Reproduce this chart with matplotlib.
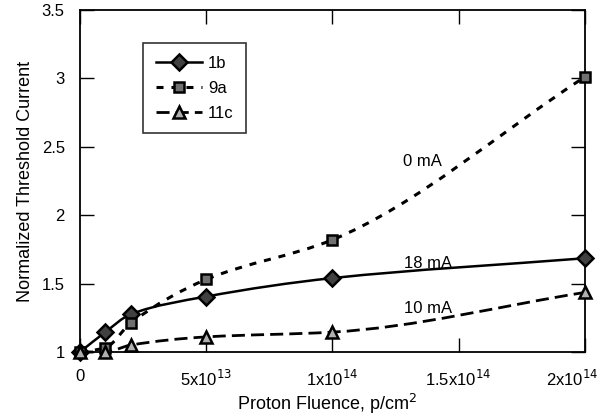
import matplotlib
matplotlib.use('Agg')
import matplotlib.pyplot as plt
from matplotlib.path import Path
from matplotlib.patches import PathPatch
from matplotlib.lines import Line2D
from matplotlib.transforms import ScaledTranslation
import numpy as np

plt.rcParams['font.family'] = ['Liberation Sans', 'DejaVu Sans']

# fluence values (p/cm^2)
fluence = [0, 1e13, 2e13, 5e13, 1e14, 2e14]
# normalized threshold current for each device
th_1b = [1.0, 1.145, 1.275, 1.405, 1.54, 1.685]
th_9a = [1.0, 1.03, 1.21, 1.53, 1.82, 3.01]
th_11c = [1.0, 1.0, 1.05, 1.11, 1.145, 1.435]

x_ticks = [0, 5e13, 1e14, 1.5e14, 2e14]
x_labels = ['0', r'5x10$^{13}$', r'1x10$^{14}$', r'1.5x10$^{14}$', r'2x10$^{14}$']
y_ticks = [1, 1.5, 2, 2.5, 3, 3.5]
y_labels = ['1', '1.5', '2', '2.5', '3', '3.5']


# smooth curve through the points, drawn as bezier segments (monotone tangents)
def smooth_path(x, y):
    x = np.asarray(x, float)
    y = np.asarray(y, float)
    h = np.diff(x)
    d = np.diff(y) / h
    m = np.zeros_like(y)
    m[0] = d[0]
    m[-1] = d[-1]
    for i in range(1, len(x) - 1):
        if d[i - 1] * d[i] > 0:
            w1 = 2 * h[i] + h[i - 1]
            w2 = h[i] + 2 * h[i - 1]
            m[i] = (w1 + w2) / (w1 / d[i - 1] + w2 / d[i])
    verts = [(x[0], y[0])]
    codes = [Path.MOVETO]
    for i in range(len(x) - 1):
        verts += [(x[i] + h[i] / 3, y[i] + m[i] * h[i] / 3),
                  (x[i + 1] - h[i] / 3, y[i + 1] - m[i + 1] * h[i] / 3),
                  (x[i + 1], y[i + 1])]
        codes += [Path.CURVE4] * 3
    return Path(verts, codes)


fig = plt.figure(figsize=(6.11, 4.17), dpi=100)
ax = fig.add_axes([0.131, 0.156, 0.826, 0.820])

series = [
    ('1b', th_1b, 'D', '#404040', 8.5, '-', 1.8),
    ('9a', th_9a, 's', '#707070', 7.5, (0, (2.3, 2.6)), 2.2),
    ('11c', th_11c, '^', '#b0b0b0', 8.5, (0, (4.7, 2.2)), 2.0),
]
handles = []
for name, vals, mk, fc, ms, ls, lw in series:
    patch = PathPatch(smooth_path(fluence, vals), facecolor='none', edgecolor='black',
                      linewidth=lw, linestyle=ls, capstyle='butt', clip_on=False)
    ax.add_patch(patch)
    ax.plot(fluence, vals, linestyle='none', marker=mk, markersize=ms,
            markerfacecolor=fc, markeredgecolor='black', markeredgewidth=1.8,
            clip_on=False, zorder=5)
    handles.append(Line2D([], [], color='black', linestyle=ls, linewidth=lw, marker=mk,
                          markersize=ms - 0.5, markerfacecolor=fc, markeredgecolor='black',
                          markeredgewidth=1.8))

ax.set_xlim(0, 2e14)
ax.set_ylim(1, 3.5)
ax.set_xticks(x_ticks)
ax.set_xticklabels(x_labels, fontsize=12)
ax.set_yticks(y_ticks)
ax.set_yticklabels(y_labels, fontsize=12)
ax.tick_params(direction='in', length=10, width=1, top=True, right=True)
ax.tick_params(axis='x', pad=12)
ax.tick_params(axis='y', pad=11)
for sp in ax.spines.values():
    sp.set_linewidth(1.3)

# last tick label sits a bit left so it stays inside the figure
last = ax.get_xticklabels()[-1]
last.set_transform(last.get_transform() + ScaledTranslation(-0.13, 0, fig.dpi_scale_trans))

ax.set_xlabel(r'Proton Fluence, p/cm$^2$', fontsize=13)
ax.set_ylabel('Normalized Threshold Current', fontsize=13)
ax.xaxis.set_label_coords(0.49, -0.118)
ax.yaxis.set_label_coords(-0.091, 0.5)

ax.text(1.358e14, 2.39, '0 mA', fontsize=12, ha='center', va='center')
ax.text(1.378e14, 1.65, '18 mA', fontsize=12, ha='center', va='center')
ax.text(1.378e14, 1.32, '10 mA', fontsize=12, ha='center', va='center')

leg = ax.legend(handles, ['1b', '9a', '11c'], loc='upper left',
                bbox_to_anchor=(0.125, 0.903), fontsize=12, frameon=True,
                fancybox=False, handlelength=2.8, handletextpad=0.35,
                borderpad=0.75, labelspacing=0.6, borderaxespad=0)
leg.get_frame().set_edgecolor('black')
leg.get_frame().set_linewidth(1.2)

fig.savefig('out.png', dpi=100)
